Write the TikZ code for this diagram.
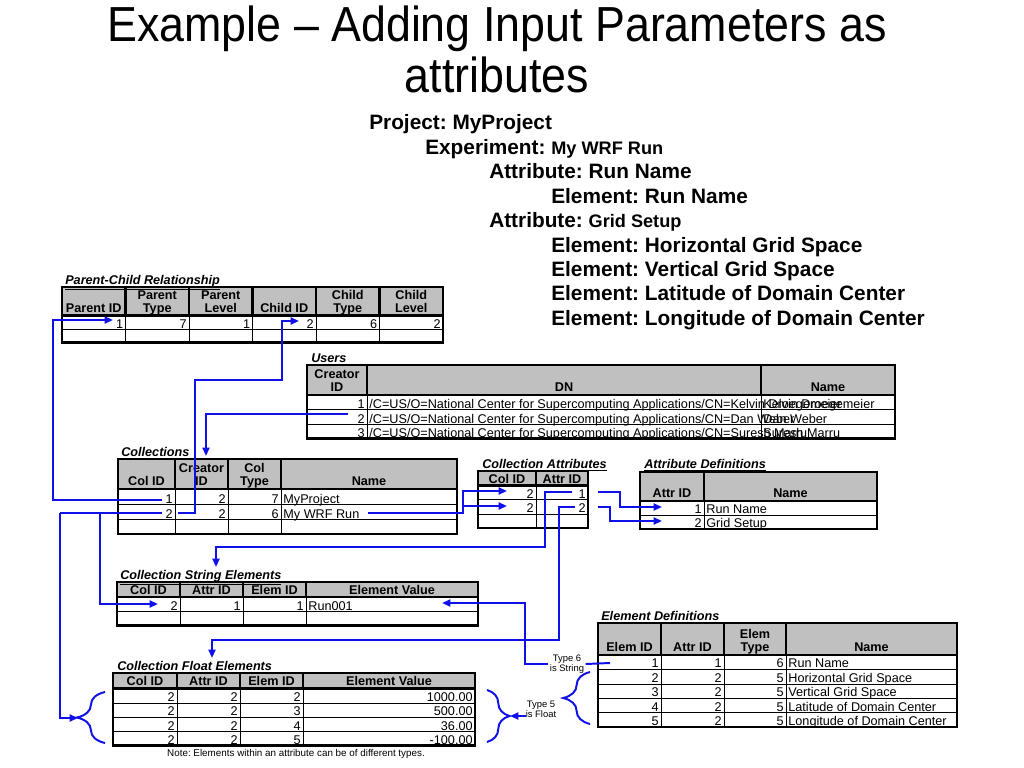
\documentclass[tikz,border=0pt]{standalone}
\usepackage{fontspec}
\setmainfont{Liberation Sans}
\usetikzlibrary{arrows.meta,decorations.pathreplacing}

\definecolor{linkblue}{RGB}{16,16,232}
\definecolor{headgray}{RGB}{192,192,192}

\begin{document}
\frenchspacing
\begin{tikzpicture}[x=0.025cm,y=-0.025cm,
	tabframe/.style={line width=1.6pt},
	tabrule/.style={line width=0.6pt},
	wire/.style={draw=linkblue,line width=1.4pt},
	link/.style={wire,-{Triangle[length=6pt,width=5pt]}},
	curl/.style={wire,decorate,decoration={brace,amplitude=#1}},
	headline/.style={anchor=base,inner sep=0pt,font=\fontsize{35}{37}\selectfont},
	hier/.style={anchor=base west,inner sep=0pt,font=\fontsize{14.8}{16}\selectfont\bfseries},
	ttl/.style={anchor=base west,inner sep=0pt,font=\fontsize{9}{10}\selectfont\bfseries\itshape},
	hdr/.style={anchor=south,inner sep=0pt,text depth=0pt,align=center,font=\fontsize{9}{9.4}\selectfont\bfseries},
	cell/.style={inner sep=0pt,font=\fontsize{9}{10}\selectfont},
	num/.style={cell,anchor=base east,xshift=-1.5pt},
	txt/.style={cell,anchor=base west,xshift=1.5pt},
	typelab/.style={inner sep=1pt,align=center,font=\fontsize{6.7}{7.4}\selectfont},
]

% parameters %{{{2

	\def\smallpart{\fontsize{12.9}{14}\selectfont}

	% left, right, inner columns, top, header bottom, inner rows, bottom
	\def\dbtable#1#2#3#4#5#6#7{%
		\fill[headgray] (#1,#4) rectangle (#2,#5);
		\foreach \cx in {#3} {
			\draw[tabframe] (\cx,#4) -- (\cx,#5);
			\draw[tabrule] (\cx,#5) -- (\cx,#7);
		}
		\foreach \ry in {#6} { \draw[tabrule] (#1,\ry) -- (#2,\ry); }
		\draw[tabframe] (#1,#5) -- (#2,#5);
		\draw[tabframe] (#1,#4) rectangle (#2,#7);
	}

	\useasboundingbox (0,0) rectangle (1024,768);

% title %{{{2

	\node[headline] (title-a) at (497,42) {\scalebox{0.91}[1]{Example – Adding Input Parameters as}};
	\node[headline] (title-b) at (497,93) {\scalebox{0.91}[1]{attributes}};

% hierarchy %{{{2

	\foreach \x/\t [count=\i] in {
		369/{Project: MyProject},
		425/{Experiment: {\smallpart My WRF Run}},
		489/{Attribute: Run Name},
		551/{Element: Run Name},
		489/{Attribute: {\smallpart Grid Setup}},
		551/{Element: Horizontal Grid Space},
		551/{Element: Vertical Grid Space},
		551/{Element: Latitude of Domain Center},
		551/{Element: Longitude of Domain Center}} {
		\node[hier] (hier\i) at (\x,{130+24.4*(\i-1)}) {\t};
	}

% parent-child relationship %{{{2

	\dbtable{62}{443}{125.5,189,252.5,316,379.5}{287}{315.5}{329.5}{342.5}
	\node[ttl] (pc-title) at (65,284.5) {\underline{Parent-Child Relationship}};

	\foreach \cx/\t [count=\i] in {93.75/Parent ID, 157.25/Parent\\Type, 220.75/Parent\\Level,
		284.25/Child ID, 347.75/Child\\Type, 411.25/Child\\Level}
		\node[hdr] (pc-h\i) at (\cx,313) {\t};

	\foreach \cx/\v [count=\i] in {125.5/1, 189/7, 252.5/1, 316/2, 379.5/6, 443/2}
		\node[num] (pc-r\i) at (\cx,328) {\v};

% users %{{{2

	\dbtable{307}{895}{367,761}{365}{395}{409.5,424}{438.5}
	\node[ttl] (us-title) at (311,362.5) {\underline{Users}};

	\node[hdr] (us-h1) at (337,392) {Creator\\ID};
	\node[hdr] (us-h2) at (564,392) {DN};
	\node[hdr] (us-h3) at (828,392) {Name};

	\foreach \n [count=\i] in {Kelvin Droegemeier, Dan Weber, Suresh Marru} {
		\node[num] (us-id\i) at (367,{394+14.5*\i}) {\i};
		\node[txt] (us-dn\i) at (367,{394+14.5*\i}) {/C=US/O=National Center for Supercomputing Applications/CN=\n};
		\node[txt] (us-nm\i) at (761,{394+14.5*\i}) {\n};
	}

% collections %{{{2

	\dbtable{118}{457}{175,228,281}{459}{489}{504.5,519.5}{534}
	\node[ttl] (co-title) at (121,456) {\underline{Collections}};

	\foreach \cx/\t [count=\i] in {146.5/Col ID, 201.5/Creator\\ID, 254.5/Col\\Type, 369/Name}
		\node[hdr] (co-h\i) at (\cx,486) {\t};

	\foreach \a/\b/\c/\t [count=\i] in {1/2/7/MyProject, 2/2/6/My WRF Run} {
		\node[num] (co-id\i) at (175,{488.5+15*\i}) {\a};
		\node[num] (co-cr\i) at (228,{488.5+15*\i}) {\b};
		\node[num] (co-ty\i) at (281,{488.5+15*\i}) {\c};
		\node[txt] (co-nm\i) at (281,{488.5+15*\i}) {\t};
	}

% collection attributes %{{{2

	\dbtable{478}{588}{536}{471}{485.5}{499.5,514}{528}
	\node[ttl] (ca-title) at (482,468.5) {\underline{Collection Attributes}};

	\node[hdr] (ca-h1) at (507,483.5) {Col ID};
	\node[hdr] (ca-h2) at (562,483.5) {Attr ID};

	\foreach \a/\b [count=\i] in {2/1, 2/2} {
		\node[num] (ca-col\i) at (536,{483.5+14.5*\i}) {\a};
		\node[num] (ca-att\i) at (588,{483.5+14.5*\i}) {\b};
	}

% attribute definitions %{{{2

	\dbtable{640}{877}{704}{472}{501}{515}{529}
	\node[ttl] (ad-title) at (644,468.5) {\underline{Attribute Definitions}};

	\node[hdr] (ad-h1) at (672,498) {Attr ID};
	\node[hdr] (ad-h2) at (790.5,498) {Name};

	\foreach \a/\t [count=\i] in {1/Run Name, 2/Grid Setup} {
		\node[num] (ad-id\i) at (704,{499.5+14*\i}) {\a};
		\node[txt] (ad-nm\i) at (704,{499.5+14*\i}) {\t};
	}

% collection string elements %{{{2

	\dbtable{117}{478}{180,243,306}{582}{597}{611.5}{625.5}
	\node[ttl] (se-title) at (120,579.5) {\underline{Collection String Elements}};

	\foreach \cx/\t [count=\i] in {148.5/Col ID, 211.5/Attr ID, 274.5/Elem ID, 392/Element Value}
		\node[hdr] (se-h\i) at (\cx,594.5) {\t};

	\foreach \cx/\v [count=\i] in {180/2, 243/1, 306/1}
		\node[num] (se-r\i) at (\cx,610) {\v};
	\node[txt] (se-val) at (306,610) {Run001};

% element definitions %{{{2

	\dbtable{598}{957}{661,724,786}{623}{655}{669.5,684,698.5,712.5}{727}
	\node[ttl] (ed-title) at (601,620.5) {\underline{Element Definitions}};

	\foreach \cx/\t [count=\i] in {629.5/Elem ID, 692.5/Attr ID, 755/Elem\\Type, 871.5/Name}
		\node[hdr] (ed-h\i) at (\cx,652) {\t};

	\foreach \a/\b/\c/\t [count=\i] in {1/1/6/Run Name, 2/2/5/Horizontal Grid Space,
		3/2/5/Vertical Grid Space, 4/2/5/Latitude of Domain Center, 5/2/5/Longitude of Domain Center} {
		\node[num] (ed-id\i) at (661,{653.5+14.4*\i}) {\a};
		\node[num] (ed-at\i) at (724,{653.5+14.4*\i}) {\b};
		\node[num] (ed-ty\i) at (786,{653.5+14.4*\i}) {\c};
		\node[txt] (ed-nm\i) at (786,{653.5+14.4*\i}) {\t};
	}

% collection float elements %{{{2

	\dbtable{113}{475}{177,240,303}{673}{688.5}{703,717,731}{745.5}
	\node[ttl] (fe-title) at (117,670.5) {\underline{Collection Float Elements}};

	\foreach \cx/\t [count=\i] in {145/Col ID, 208.5/Attr ID, 271.5/Elem ID, 389/Element Value}
		\node[hdr] (fe-h\i) at (\cx,686) {\t};

	\foreach \e/\v [count=\i] in {2/1000.00, 3/500.00, 4/36.00, 5/-100.00} {
		\node[num] (fe-id\i) at (177,{687.5+14.2*\i}) {2};
		\node[num] (fe-at\i) at (240,{687.5+14.2*\i}) {2};
		\node[num] (fe-el\i) at (303,{687.5+14.2*\i}) {\e};
		\node[num] (fe-val\i) at (475,{687.5+14.2*\i}) {\v};
	}

	\node[font=\fontsize{7}{8}\selectfont] (note) at (296,754) {Note: Elements within an attribute can be of different types.};

% type labels, braces %{{{2

	\node[typelab] (type6) at (567,664) {Type 6\\is String};
	\node[typelab] (type5) at (541,709) {Type 5\\is Float};

	\draw[curl=20pt] (105,743) -- (105,692);
	\draw[curl=16pt] (487,690) -- (487,742);
	\draw[curl=19pt] (590,724) -- (590,672);

% connector ends %{{{2

	\coordinate (pcParent) at (113,320);
	\coordinate (pcChild) at (299,321);
	\coordinate (usTwo) at (348,414);
	\coordinate (coTop) at (206,456);
	\coordinate (coOne) at (162,500);
	\coordinate (coTwo) at (162,513);
	\coordinate (coCreator) at (178,513);
	\coordinate (coName) at (368,513);
	\coordinate (caColA) at (507,491);
	\coordinate (caColB) at (507,506);
	\coordinate (caOutA) at (598,492);
	\coordinate (caOutB) at (598,507);
	\coordinate (caInA) at (572,492);
	\coordinate (caInB) at (575,507);
	\coordinate (adOne) at (662,507);
	\coordinate (adTwo) at (662,521);
	\coordinate (seTop) at (216,567);
	\coordinate (seCol) at (158,604);
	\coordinate (seVal) at (442,603);
	\coordinate (feTop) at (212,658);
	\coordinate (feLeft) at (78,718);
	\coordinate (feRight) at (510,716);
	\coordinate (edOne) at (610,663);

% connectors %{{{2

	\draw[link] (coOne) -- (53,500) |- (pcParent);
	\draw[link] (coCreator) -- (195,513) |- (282,380) |- (pcChild);
	\draw[link] (usTwo) -| (coTop);

	\draw[wire] (coTwo) -- (60,513);
	\draw[link] (60,513) |- (feLeft);
	\draw[link] (100,513) |- (seCol);

	\draw[link] (coName) -| (463,491) -- (caColA);
	\draw[link] (463,506) -- (caColB);

	\draw[link] (caOutA) -| (620,507) -- (adOne);
	\draw[link] (caOutB) -| (610,521) -- (adTwo);

	\draw[link] (caInA) -| (545,547) -| (seTop);
	\draw[link] (caInB) -| (559,640) -| (feTop);

	\draw[wire] (edOne) -- (type6.east);
	\draw[link] (type6.west) -- (525,664) |- (seVal);
	\draw[link] (526,716) -- (feRight);

% closing %{{{2

\end{tikzpicture}
\end{document}
